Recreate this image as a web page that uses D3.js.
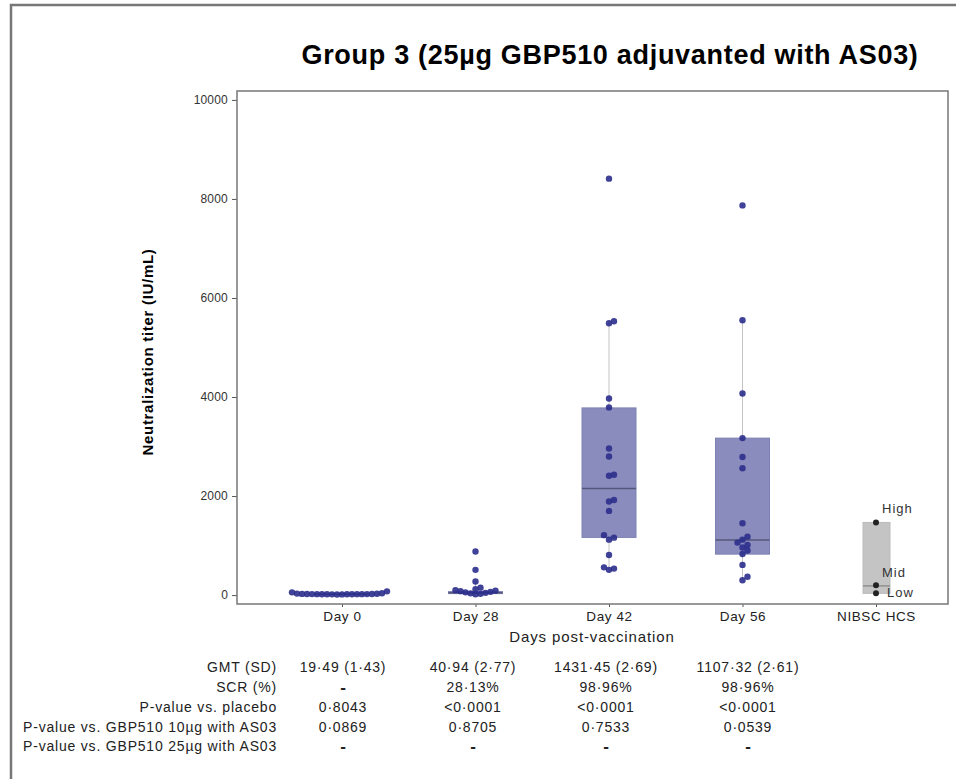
<!DOCTYPE html>
<html>
<head>
<meta charset="utf-8">
<script src="https://cdn.jsdelivr.net/npm/d3@7"></script>
<style>
  body { margin: 0; background: #fff; }
  text { font-family: "Liberation Sans", Arial, sans-serif; }
</style>
</head>
<body>
<div class="chart"></div>
<script>
// chart data
var categories = ['Day 0', 'Day 28', 'Day 42', 'Day 56', 'NIBSC HCS'];
var yTicks = [0, 2000, 4000, 6000, 8000, 10000];

// individual titers
var day0 = [12, 14, 15, 16, 17, 18, 18, 19, 19, 19, 20, 20, 21, 22, 24, 26, 30, 38, 55, 75];
var day28 = [880, 510, 275, 150, 120, 100, 90, 80, 65, 55, 45, 35, 25, 15];
var day42 = [8410, 5530, 5490, 3970, 3790, 2960, 2800, 2430, 2410, 1920, 1890, 1700, 1210, 1160, 1120, 810, 560, 535, 510];
var day56 = [7870, 5550, 4070, 3170, 2790, 2560, 1450, 1180, 1120, 1060, 1010, 960, 900, 830, 610, 370, 300];
var points = [day0, day28, day42, day56];

// box statistics per day
var q1 = [16, 30, 1165, 827];
var median = [19, 45, 2150, 1110];
var q3 = [22, 70, 3780, 3170];
var whiskLow = [12, 15, 510, 300];
var whiskHigh = [75, 275, 5530, 5550];

// NIBSC reference panel
var hcsLabels = ['High', 'Mid', 'Low'];
var hcsValues = [1467, 200, 35];
var hcsBox = {low: 35, mid: 185, high: 1467};

// table under the chart
var rowLabels = ['GMT (SD)', 'SCR (%)', 'P-value vs. placebo', 'P-value vs. GBP510 10\u00b5g with AS03', 'P-value vs. GBP510 25\u00b5g with AS03'];
var tableValues = [
  ['19\u00b749 (1\u00b743)', '40\u00b794 (2\u00b777)', '1431\u00b745 (2\u00b769)', '1107\u00b732 (2\u00b761)'],
  ['-', '28\u00b713%', '98\u00b796%', '98\u00b796%'],
  ['0\u00b78043', '<0\u00b70001', '<0\u00b70001', '<0\u00b70001'],
  ['0\u00b70869', '0\u00b78705', '0\u00b77533', '0\u00b70539'],
  ['-', '-', '-', '-']
];

//layout
var W = 956, H = 779;
var frame = {left: 237, top: 91, right: 948, bottom: 604};
var tableCols = [343, 473, 606, 748];
var dotColor = '#2b2d8c';
var font = '"Liberation Sans", Arial, sans-serif';

var svg = d3.select('.chart')
  .append('svg')
    .attr('width', W)
    .attr('height', H);

// outer page edge
svg.append('path')
  .attr('d', 'M11,779 V5 H956')
  .attr('fill', 'none')
  .attr('stroke', '#777')
  .attr('stroke-width', 2.5);

var y = d3.scaleLinear().domain([-180, 10180]).range([frame.bottom, frame.top]);
var x = d3.scalePoint().domain(categories).range([342, 876]);

// title
svg.append('text')
  .attr('x', 610).attr('y', 64)
  .attr('text-anchor', 'middle')
  .attr('font-size', 27).attr('font-weight', 'bold')
  .attr('letter-spacing', 0.7)
  .text('Group 3 (25\u00b5g GBP510 adjuvanted with AS03)');

// y axis
var yAxis = svg.append('g')
  .attr('transform', 'translate(' + frame.left + ',0)')
  .call(d3.axisLeft(y).tickValues(yTicks).tickSize(5).tickPadding(4).tickFormat(d3.format('d')));
yAxis.select('.domain').remove();
yAxis.selectAll('line').attr('stroke', '#555');
yAxis.selectAll('text').attr('font-size', 12).attr('fill', '#333')
  .attr('letter-spacing', 0.2)
  .style('font-family', font);

// x axis
var xAxis = svg.append('g')
  .attr('transform', 'translate(0,' + frame.bottom + ')')
  .call(d3.axisBottom(x).tickSize(3).tickPadding(4));
xAxis.select('.domain').remove();
xAxis.selectAll('line').attr('stroke', '#555');
xAxis.selectAll('text').attr('font-size', 13.5).attr('fill', '#222')
  .attr('letter-spacing', 0.6)
  .style('font-family', font);

svg.append('text')
  .attr('transform', 'translate(153,352) rotate(-90)')
  .attr('text-anchor', 'middle')
  .attr('font-size', 15).attr('font-weight', 'bold')
  .attr('letter-spacing', 0.7)
  .text('Neutralization titer (IU/mL)');

svg.append('text')
  .attr('x', 592).attr('y', 642)
  .attr('text-anchor', 'middle')
  .attr('font-size', 15).attr('fill', '#222')
  .attr('letter-spacing', 0.9)
  .text('Days post-vaccination');

// boxes
var boxW = 54;
var boxes = svg.append('g');
for (var i = 0; i < 4; i++) {
  var cx = x(categories[i]);
  boxes.append('line')
    .attr('x1', cx).attr('x2', cx)
    .attr('y1', y(whiskLow[i])).attr('y2', y(whiskHigh[i]))
    .attr('stroke', '#c4c4c4').attr('stroke-width', 1);
  boxes.append('rect')
    .attr('x', cx - boxW / 2).attr('width', boxW)
    .attr('y', y(q3[i])).attr('height', y(q1[i]) - y(q3[i]))
    .attr('fill', '#8a8cbd').attr('stroke', '#7e80b3');
  boxes.append('line')
    .attr('x1', cx - boxW / 2).attr('x2', cx + boxW / 2)
    .attr('y1', y(median[i])).attr('y2', y(median[i]))
    .attr('stroke', '#55577a').attr('stroke-width', 1.5);
}

// NIBSC box
var hx = x('NIBSC HCS');
svg.append('rect')
  .attr('x', hx - 13).attr('width', 27)
  .attr('y', y(hcsBox.high)).attr('height', y(hcsBox.low) - y(hcsBox.high))
  .attr('fill', '#c4c4c4').attr('stroke', '#bbb');
svg.append('line')
  .attr('x1', hx - 13).attr('x2', hx + 14)
  .attr('y1', y(hcsBox.mid)).attr('y2', y(hcsBox.mid))
  .attr('stroke', '#777').attr('stroke-width', 1);
svg.selectAll('.hcs')
  .data(hcsValues)
  .enter()
  .append('circle')
    .attr('class', 'hcs')
    .attr('cx', hx)
    .attr('cy', function(d){ return y(d) })
    .attr('r', 3)
    .attr('fill', '#222');
svg.selectAll('.hcsLabel')
  .data(hcsLabels)
  .enter()
  .append('text')
    .attr('class', 'hcsLabel')
    .attr('x', function(d, i){ return hx + (i == 2 ? 11 : 6) })
    .attr('y', function(d, i){ return y(hcsValues[i]) + [-14, -13, -1][i] })
    .attr('dy', '0.35em')
    .attr('font-size', 13).attr('fill', '#333')
    .attr('letter-spacing', 1)
    .text(function(d){ return d });

//beeswarm dodge
var dodge = function(values, cx, step){
  var placed = [];
  values.slice().sort(function(a, b){ return a - b }).forEach(function(v){
    var py = y(v);
    for (var k = 0; k < 60; k++) {
      var off = (k % 2 ? 1 : -1) * Math.ceil(k / 2) * step;
      var ok = placed.every(function(p){
        var dx = p.x - (cx + off), dy = p.y - py;
        return dx * dx + dy * dy >= step * step;
      });
      if (ok) { placed.push({x: cx + off, y: py}); break; }
    }
  });
  return placed;
}

for (var j = 0; j < points.length; j++) {
  svg.append('g').selectAll('circle')
    .data(dodge(points[j], x(categories[j]) - (j == 0 ? 5 : 0), 5))
    .enter()
    .append('circle')
      .attr('cx', function(d){ return d.x })
      .attr('cy', function(d){ return d.y })
      .attr('r', 3.2)
      .attr('fill', dotColor)
      .attr('fill-opacity', 0.9);
}

// plot frame
svg.append('rect')
  .attr('x', frame.left).attr('y', frame.top)
  .attr('width', frame.right - frame.left).attr('height', frame.bottom - frame.top)
  .attr('fill', 'none').attr('stroke', '#777').attr('stroke-width', 1.5);

// table
var rowY = [667, 687, 707, 727, 746];
var table = svg.append('g');
table.selectAll('.rowLabel')
  .data(rowLabels)
  .enter()
  .append('text')
    .attr('class', 'rowLabel')
    .attr('x', 277)
    .attr('y', function(d, i){ return rowY[i] })
    .attr('dy', '0.35em')
    .attr('text-anchor', 'end')
    .attr('font-size', 14).attr('fill', '#222')
    .attr('letter-spacing', 0.8)
    .text(function(d){ return d });

tableValues.forEach(function(row, r){
  table.selectAll('.cell' + r)
    .data(row)
    .enter()
    .append('text')
      .attr('x', function(d, c){ return tableCols[c] })
      .attr('y', rowY[r])
      .attr('dy', '0.35em')
      .attr('text-anchor', 'middle')
      .attr('font-size', function(d){ return d == '-' ? 17 : 14 })
      .attr('font-weight', function(d){ return d == '-' ? 'bold' : 'normal' })
      .attr('letter-spacing', function(d){ return d == '-' ? 0 : 0.8 })
      .attr('fill', '#222')
      .text(function(d){ return d });
});
</script>
</body>
</html>
